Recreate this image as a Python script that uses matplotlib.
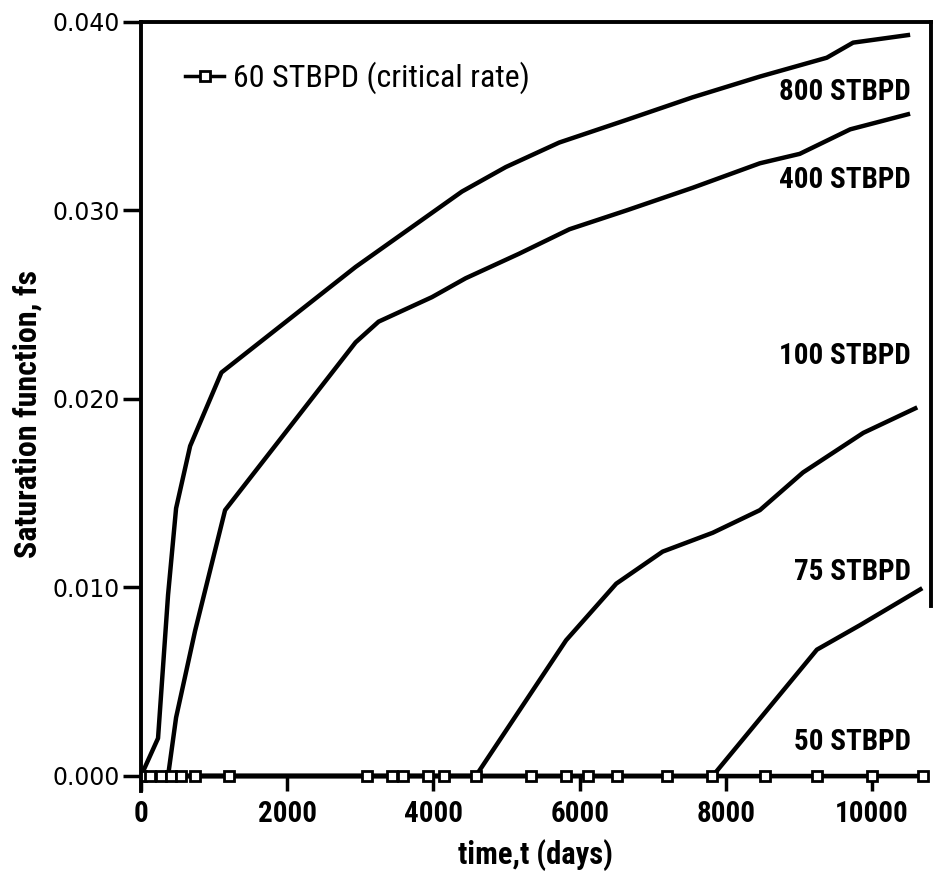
"""
Saturation function vs time for several producing rates.
Redraw of a scanned reservoir-simulation figure.
"""

import matplotlib
matplotlib.use("Agg")
import matplotlib.pyplot as plt
from matplotlib import font_manager

# time (days) / saturation function for each rate
t_800 = [0, 233, 370, 480, 672, 1100, 2935, 4390, 4990, 5720, 6640, 7545, 8465, 9380, 9740, 10490]
fs_800 = [0.0, 0.0020, 0.0096, 0.0142, 0.0175, 0.0214, 0.0270, 0.0310, 0.0323, 0.0336, 0.0348,
          0.0360, 0.0371, 0.0381, 0.0389, 0.0393]

t_400 = [0, 370, 480, 740, 1150, 2935, 3250, 3980, 4440, 5170, 5860, 6640, 7545, 8465, 9010, 9700, 10490]
fs_400 = [0.0, 0.0, 0.0031, 0.0077, 0.0141, 0.0230, 0.0241, 0.0254, 0.0264, 0.0277, 0.0290,
          0.0300, 0.0312, 0.0325, 0.0330, 0.0343, 0.0351]

t_100 = [0, 4580, 5815, 6500, 7135, 7820, 8465, 9055, 9880, 10590]
fs_100 = [0.0, 0.0, 0.0072, 0.0102, 0.0119, 0.0129, 0.0141, 0.0161, 0.0182, 0.0195]

t_75 = [0, 7820, 9245, 9835, 10660]
fs_75 = [0.0, 0.0, 0.0067, 0.0080, 0.0099]

t_50 = [0, 10700]
fs_50 = [0.0, 0.0]

# critical rate, drawn with markers
t_60 = [0, 120, 270, 410, 550, 740, 1200, 3090, 3430, 3590, 3930, 4150, 4580, 5330, 5815,
        6110, 6510, 7190, 7805, 8530, 9245, 10000, 10700]
fs_60 = [0.0] * len(t_60)

curve_labels = ['800 STBPD', '400 STBPD', '100 STBPD', '75 STBPD', '50 STBPD']
label_y = [0.0363, 0.0316, 0.0223, 0.0108, 0.0018]

xticks = [0, 2000, 4000, 6000, 8000, 10000]
yticks = [0.0, 0.01, 0.02, 0.03, 0.04]


def pick_narrow_font():
    """
    Look for a narrow / condensed sans in the installed fonts.
    Returns (family, stretch).
    """
    fonts = font_manager.fontManager.ttflist
    names = {f.name for f in fonts}
    for want in ['Liberation Sans Narrow', 'Roboto Condensed', 'DejaVu Sans Condensed',
                 'Open Sans Condensed', 'Noto Sans Condensed']:
        if want in names:
            return want, 'normal'
    for f in fonts:
        if f.name == 'DejaVu Sans' and 'condensed' in str(f.stretch).lower():
            return 'DejaVu Sans', 'condensed'
    for f in fonts:
        low = f.name.lower()
        if 'narrow' in low or 'condensed' in low:
            return f.name, 'normal'
    return 'DejaVu Sans', 'normal'


narrowFam, narrowStretch = pick_narrow_font()
NARROW = [narrowFam, 'DejaVu Sans']

fig = plt.figure(figsize=(9.4, 8.76), dpi=100)
ax = fig.add_axes([0.150, 0.097, 0.840, 0.878])

lw = 3.2
for t, fs in [(t_800, fs_800), (t_400, fs_400), (t_100, fs_100), (t_75, fs_75), (t_50, fs_50)]:
    ax.plot(t, fs, color='black', lw=lw, solid_joinstyle='round')

ax.plot(t_60, fs_60, color='black', lw=2.5, marker='s', markersize=7,
        markerfacecolor='white', markeredgecolor='black', markeredgewidth=2,
        label='60 STBPD (critical rate)')

for txt, y in zip(curve_labels, label_y):
    ax.text(10530, y, txt, ha='right', va='center', fontsize=21,
            fontweight='bold', family=NARROW, fontstretch=narrowStretch)

ax.set_xlim(0, 10800)
ax.set_ylim(-0.0008, 0.040)

ax.spines['bottom'].set_position(('data', 0))
ax.spines['bottom'].set_visible(False)
for side in ['left', 'top', 'right']:
    ax.spines[side].set_linewidth(2.8)
ax.spines['right'].set_bounds(0.009, 0.040)

ax.set_xticks(xticks)
ax.set_xticklabels([str(v) for v in xticks], fontsize=21, fontweight='bold',
                   family=NARROW, fontstretch=narrowStretch)
ax.set_yticks(yticks)
ax.set_yticklabels(['%.3f' % v for v in yticks], fontsize=17, family='DejaVu Sans')
ax.tick_params(axis='y', direction='out', length=13, width=2.5, pad=2)
ax.tick_params(axis='x', direction='out', length=11, width=2.5, pad=6)
ax.tick_params(top=False, right=False)

ax.set_xlabel('time,t (days)', fontsize=22, fontweight='bold', family=NARROW,
              fontstretch=narrowStretch, labelpad=8)
ax.set_ylabel('Saturation function, fs', fontsize=23, fontweight='bold', family=NARROW,
              fontstretch=narrowStretch)
ax.yaxis.set_label_coords(-0.125, 0.49)

leg = ax.legend(loc='upper left', bbox_to_anchor=(0.04, 0.965), frameon=False,
                handlelength=1.2, handletextpad=0.3, borderaxespad=0,
                prop={'family': NARROW, 'size': 23, 'stretch': narrowStretch})

fig.savefig('out.png', dpi=100)
